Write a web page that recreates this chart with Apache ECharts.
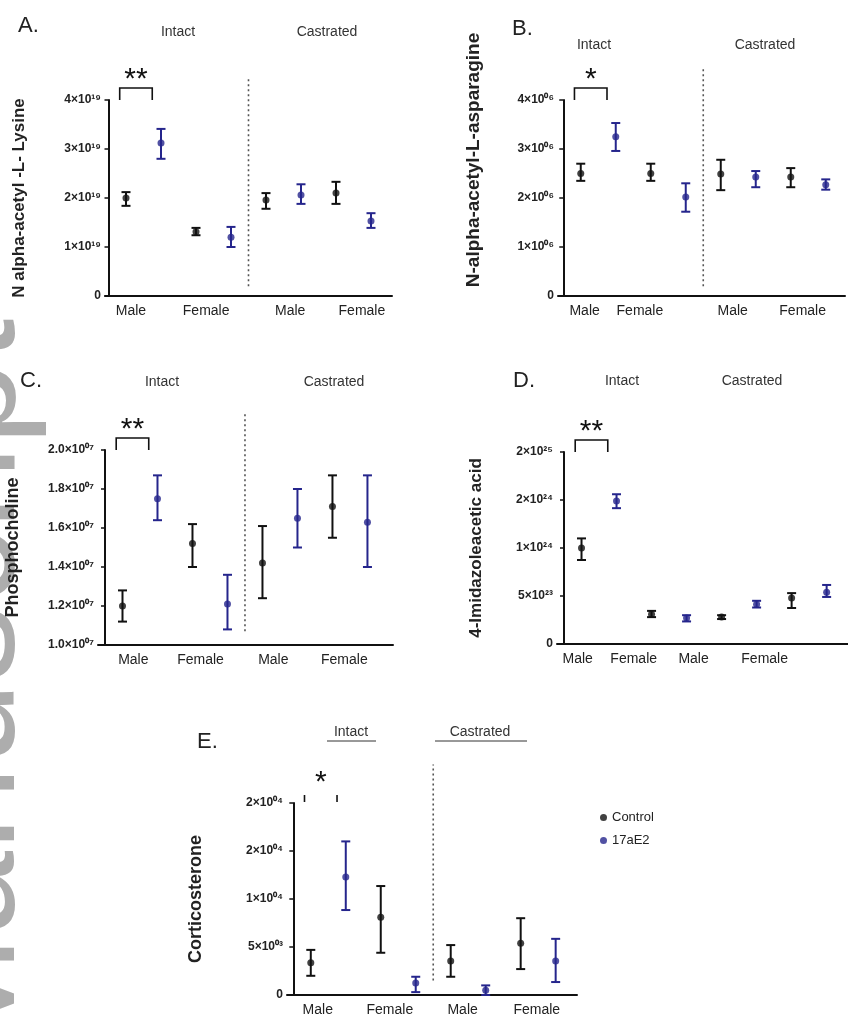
<!DOCTYPE html>
<html><head><meta charset="utf-8">
<script src="https://cdn.jsdelivr.net/npm/echarts@6/dist/echarts.min.js"></script>
<style>html,body{margin:0;padding:0;background:#fff}#c{width:848px;height:1032px}</style>
</head><body><div id="c"></div><script>
// ---------- data ----------
const groupLabels = ['Male', 'Female', 'Male', 'Female'];
const seriesNames = ['Control', '17aE2'];

// Panel A: N alpha-acetyl-L-Lysine
const aTickLabels = ['0', '1×10¹⁹', '2×10¹⁹', '3×10¹⁹', '4×10¹⁹'];
const aCtrlMean = [2.0, 1.31, 1.96, 2.1];
const aCtrlLow  = [1.84, 1.24, 1.78, 1.88];
const aCtrlHigh = [2.12, 1.39, 2.1, 2.33];
const aTrtMean  = [3.12, 1.2, 2.06, 1.53];
const aTrtLow   = [2.8, 1.0, 1.88, 1.39];
const aTrtHigh  = [3.41, 1.41, 2.28, 1.69];

// Panel B: N-alpha-acetyl-L-asparagine
const bTickLabels = ['0', '1×10⁰⁶', '2×10⁰⁶', '3×10⁰⁶', '4×10⁰⁶'];
const bCtrlMean = [2.5, 2.5, 2.49, 2.43];
const bCtrlLow  = [2.35, 2.35, 2.16, 2.22];
const bCtrlHigh = [2.7, 2.7, 2.78, 2.61];
const bTrtMean  = [3.25, 2.02, 2.43, 2.27];
const bTrtLow   = [2.96, 1.72, 2.22, 2.17];
const bTrtHigh  = [3.53, 2.3, 2.55, 2.38];

// Panel C: Phosphocholine
const cTickLabels = ['1.0×10⁰⁷', '1.2×10⁰⁷', '1.4×10⁰⁷', '1.6×10⁰⁷', '1.8×10⁰⁷', '2.0×10⁰⁷'];
const cCtrlMean = [1.2, 1.52, 1.42, 1.71];
const cCtrlLow  = [1.12, 1.4, 1.24, 1.55];
const cCtrlHigh = [1.28, 1.62, 1.61, 1.87];
const cTrtMean  = [1.75, 1.21, 1.65, 1.63];
const cTrtLow   = [1.64, 1.08, 1.5, 1.4];
const cTrtHigh  = [1.87, 1.36, 1.8, 1.87];

// Panel D: 4-Imidazoleacetic acid
const dTickLabels = ['0', '5×10²³', '1×10²⁴', '2×10²⁴', '2×10²⁵'];
const dCtrlMean = [2.0, 0.62, 0.56, 0.96];
const dCtrlLow  = [1.75, 0.56, 0.52, 0.75];
const dCtrlHigh = [2.2, 0.69, 0.6, 1.06];
const dTrtMean  = [2.98, 0.54, 0.83, 1.08];
const dTrtLow   = [2.83, 0.47, 0.76, 0.98];
const dTrtHigh  = [3.12, 0.6, 0.9, 1.23];

// Panel E: Corticosterone
const eTickLabels = ['0', '5×10⁰³', '1×10⁰⁴', '2×10⁰⁴', '2×10⁰⁴'];
const eCtrlMean = [0.67, 1.62, 0.71, 1.08];
const eCtrlLow  = [0.4, 0.88, 0.38, 0.54];
const eCtrlHigh = [0.94, 2.27, 1.04, 1.6];
const eTrtMean  = [2.46, 0.25, 0.1, 0.71];
const eTrtLow   = [1.77, 0.06, 0.0, 0.27];
const eTrtHigh  = [3.2, 0.38, 0.2, 1.17];

const sigLabels = ['**', '*', '**', '**', '*'];
const yAxisNames = ['N alpha-acetyl -L- Lysine', 'N-alpha-acetyl-L-asparagine', 'Phosphocholine', '4-Imidazoleacetic acid', 'Corticosterone'];
const panelLetters = ['A.', 'B.', 'C.', 'D.', 'E.'];
const headerLabels = ['Intact', 'Castrated'];
const watermarkText = 'Manuscript';

// ---------- layout ----------
const COLORS = ['#111111', '#25258c'];
const FONT = 'Liberation Sans, Arial, sans-serif';
const panels = [
  { grid: {left: 105, top: 100, width: 287, height: 196}, xMin: -0.1, xMax: 8.1, yMin: 0, yMax: 4, yInt: 1,
    ticks: aTickLabels, ctrl: [aCtrlMean, aCtrlLow, aCtrlHigh], trt: [aTrtMean, aTrtLow, aTrtHigh],
    nameGap: 77, nameSize: 17, namePad: 0, labelPos: [0.64, 2.79, 5.19, 7.24], divider: [0.2, 4.45], sigTop: true,
    letter: [18, 26], headers: [[178, 32], [327, 32]] },
  { grid: {left: 558, top: 100, width: 287, height: 196}, xMin: -0.15, xMax: 8.05, yMin: 0, yMax: 4, yInt: 1,
    ticks: bTickLabels, ctrl: [bCtrlMean, bCtrlLow, bCtrlHigh], trt: [bTrtMean, bTrtLow, bTrtHigh],
    nameGap: 75, nameSize: 19, namePad: 76, labelPos: [0.61, 2.19, 4.84, 6.84], divider: [0.2, 4.65], sigTop: true,
    letter: [512, 29], headers: [[594, 45], [765, 45]] },
  { grid: {left: 98, top: 450, width: 295, height: 195}, xMin: -0.2, xMax: 8.23, yMin: 1.0, yMax: 2.0, yInt: 0.2,
    ticks: cTickLabels, ctrl: [cCtrlMean, cCtrlLow, cCtrlHigh], trt: [cTrtMean, cTrtLow, cTrtHigh],
    nameGap: 76, nameSize: 18, namePad: 0, labelPos: [0.81, 2.73, 4.81, 6.84], divider: [1.07, 2.19], sigTop: true,
    letter: [20, 381], headers: [[162, 382], [334, 382]] },
  { grid: {left: 557, top: 452, width: 291, height: 192}, xMin: -0.2, xMax: 8.11, yMin: 0, yMax: 4, yInt: 1,
    ticks: dTickLabels, ctrl: [dCtrlMean, dCtrlLow, dCtrlHigh], trt: [dTrtMean, dTrtLow, dTrtHigh],
    nameGap: 72, nameSize: 17, namePad: 0, labelPos: [0.39, 1.99, 3.7, 5.73], divider: null, sigTop: true,
    letter: [513, 381], headers: [[622, 381], [752, 381]] },
  { grid: {left: 287, top: 803, width: 290, height: 192}, xMin: -0.18, xMax: 8.11, yMin: 0, yMax: 4, yInt: 1,
    ticks: eTickLabels, ctrl: [eCtrlMean, eCtrlLow, eCtrlHigh], trt: [eTrtMean, eTrtLow, eTrtHigh],
    nameGap: 82, nameSize: 18, namePad: 0, labelPos: [0.7, 2.76, 4.84, 6.96], divider: [0.3, 4.8], sigTop: false,
    letter: [197, 742], headers: [[351, 732], [480, 732]] }
];

// ---------- render helpers ----------
function errRender(params, api) {
  const x = api.value(0), lo = api.value(1), hi = api.value(2);
  const p1 = api.coord([x, lo]), p2 = api.coord([x, hi]);
  const w = 4.5;
  const st = {stroke: api.visual('color'), lineWidth: 2};
  return {type: 'group', children: [
    {type: 'line', shape: {x1: p1[0], y1: p1[1], x2: p2[0], y2: p2[1]}, style: st},
    {type: 'line', shape: {x1: p1[0] - w, y1: p1[1], x2: p1[0] + w, y2: p1[1]}, style: st},
    {type: 'line', shape: {x1: p2[0] - w, y1: p2[1], x2: p2[0] + w, y2: p2[1]}, style: st}
  ]};
}

const grids = [], xAxes = [], yAxes = [], series = [], graphics = [];

panels.forEach((p, i) => {
  grids.push(Object.assign({containLabel: false}, p.grid));
  xAxes.push({
    type: 'value', gridIndex: i, min: p.xMin, max: p.xMax,
    axisLine: {show: true, onZero: false, lineStyle: {color: '#111', width: 2}},
    axisTick: {show: false}, axisLabel: {show: false}, splitLine: {show: false}
  });
  yAxes.push({
    type: 'value', gridIndex: i, min: p.yMin, max: p.yMax, interval: p.yInt,
    name: yAxisNames[i], nameLocation: 'middle', nameGap: p.nameGap, nameRotate: 90,
    nameTextStyle: {fontFamily: FONT, fontSize: p.nameSize, fontWeight: 'bold', color: '#222', padding: [0, 0, 0, p.namePad]},
    axisLine: {show: true, lineStyle: {color: '#111', width: 2}},
    axisTick: {show: true, length: 4, lineStyle: {color: '#111', width: 1.5}},
    axisLabel: {fontFamily: FONT, fontSize: 12, fontWeight: 'bold', color: '#222', margin: 4,
      formatter: v => p.ticks[Math.round((v - p.yMin) / p.yInt)]},
    splitLine: {show: false}
  });

  [p.ctrl, p.trt].forEach((arr, s) => {
    const [mean, low, high] = arr;
    const xs = mean.map((_, g) => 2 * g + 0.5 + s);
    series.push({
      name: seriesNames[s], type: 'scatter', xAxisIndex: i, yAxisIndex: i,
      symbol: 'circle', symbolSize: 7, itemStyle: {color: COLORS[s]}, z: 4,
      data: mean.map((m, g) => [xs[g], m])
    });
    series.push({
      name: seriesNames[s], type: 'custom', xAxisIndex: i, yAxisIndex: i, clip: false, z: 3,
      itemStyle: {color: COLORS[s]}, renderItem: errRender,
      data: mean.map((m, g) => [xs[g], low[g], high[g]])
    });
  });

  // group labels below x axis
  series.push({
    type: 'custom', xAxisIndex: i, yAxisIndex: i, clip: false, silent: true,
    data: p.labelPos.map(x => [x, p.yMin]),
    renderItem: (params, api) => {
      const c = api.coord([api.value(0), api.value(1)]);
      return {type: 'text', x: c[0], y: c[1] + 8, style: {text: groupLabels[params.dataIndex],
        fontFamily: FONT, fontSize: 14, fill: '#222', align: 'center', verticalAlign: 'top'}};
    }
  });

  // dotted divider between Intact and Castrated
  if (p.divider) {
    series.push({
      type: 'custom', xAxisIndex: i, yAxisIndex: i, clip: false, silent: true,
      data: [[4, p.divider[0], p.divider[1]]],
      renderItem: (params, api) => {
        const a = api.coord([api.value(0), api.value(1)]), b = api.coord([api.value(0), api.value(2)]);
        return {type: 'line', shape: {x1: a[0], y1: a[1], x2: b[0], y2: b[1]},
          style: {stroke: '#555', lineWidth: 1.6, lineDash: [2, 3]}};
      }
    });
  }

  // significance bracket
  series.push({
    type: 'custom', xAxisIndex: i, yAxisIndex: i, clip: false, silent: true,
    data: [[0.32, 1.25, p.yMax]],
    renderItem: (params, api) => {
      const a = api.coord([api.value(0), api.value(2)]), b = api.coord([api.value(1), api.value(2)]);
      const top = a[1] - 12;
      const st = {stroke: '#111', lineWidth: 1.6};
      const kids = [];
      if (p.sigTop) {
        kids.push({type: 'polyline', shape: {points: [[a[0], a[1]], [a[0], top], [b[0], top], [b[0], b[1]]]}, style: Object.assign({fill: null}, st)});
      } else {
        kids.push({type: 'line', shape: {x1: a[0], y1: a[1] - 1, x2: a[0], y2: a[1] - 8}, style: st});
        kids.push({type: 'line', shape: {x1: b[0], y1: b[1] - 1, x2: b[0], y2: b[1] - 8}, style: st});
      }
      kids.push({type: 'text', x: (a[0] + b[0]) / 2, y: a[1] - 20, style: {text: sigLabels[i],
        fontFamily: FONT, fontSize: 30, fill: '#111', align: 'center', verticalAlign: 'middle'}});
      return {type: 'group', children: kids};
    }
  });

  // panel letter & headers
  graphics.push({type: 'text', x: p.letter[0], y: p.letter[1], style: {text: panelLetters[i],
    fontFamily: FONT, fontSize: 22, fill: '#222', align: 'left', verticalAlign: 'middle'}});
  p.headers.forEach((h, k) => {
    graphics.push({type: 'text', x: h[0], y: h[1], style: {text: headerLabels[k],
      fontFamily: FONT, fontSize: 14, fill: '#333', align: 'center', verticalAlign: 'middle'}});
  });
});

// underlines for panel E headers
graphics.push({type: 'line', shape: {x1: 327, y1: 741, x2: 376, y2: 741}, style: {stroke: '#333', lineWidth: 1}});
graphics.push({type: 'line', shape: {x1: 435, y1: 741, x2: 527, y2: 741}, style: {stroke: '#333', lineWidth: 1}});

// watermark (mostly cut off at the left edge)
graphics.push({type: 'text', x: 48, y: 1062, rotation: Math.PI / 2, z: -10, silent: true,
  style: {text: watermarkText, fontFamily: FONT, fontSize: 152, fill: '#adadad',
    align: 'left', verticalAlign: 'bottom'}});

const chart = echarts.init(document.getElementById('c'), null, {renderer: 'canvas'});
chart.setOption({
  backgroundColor: '#fff',
  animation: false,
  textStyle: {fontFamily: FONT},
  grid: grids, xAxis: xAxes, yAxis: yAxes, series: series,
  legend: {
    data: seriesNames.map(n => ({name: n, icon: 'circle'})),
    orient: 'vertical', left: 595, top: 806, itemWidth: 7, itemHeight: 7, itemGap: 10,
    textStyle: {fontFamily: FONT, fontSize: 13, color: '#222'}
  },
  graphic: graphics
});
</script></body></html>
